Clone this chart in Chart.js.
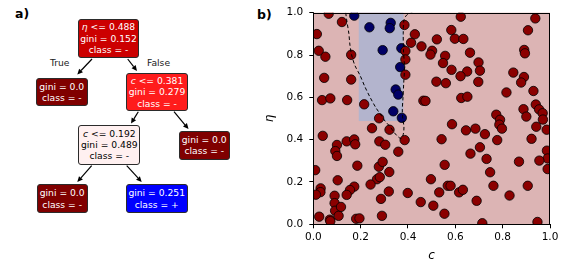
<!DOCTYPE html>
<html><head><meta charset="utf-8">
<script src="https://cdn.jsdelivr.net/npm/chart.js@4/dist/chart.umd.min.js"></script>
<style>
html,body{margin:0;padding:0;background:#fff;}
#wrap{position:relative;width:574px;height:262px;overflow:hidden;font-family:"DejaVu Sans",sans-serif;}
.lbl{position:absolute;font-weight:bold;font-size:12.5px;color:#000;line-height:14px;}
.node{position:absolute;box-sizing:border-box;border:1.3px solid #2b2b2b;border-radius:3px;font-size:9.2px;line-height:11.2px;text-align:center;color:#fff;display:flex;flex-direction:column;justify-content:center;white-space:nowrap;}
.edge{position:absolute;font-size:9.2px;color:#222;line-height:11px;}
#chartBox{position:absolute;left:258px;top:0;width:316px;height:262px;}
</style></head><body>
<div id="wrap">
 <div class="lbl" style="left:15px;top:7px">a)</div>
 <div class="lbl" style="left:257px;top:8px">b)</div>
 <svg id="arrows" width="260" height="262" style="position:absolute;left:0;top:0"></svg>
 <div id="tree"></div>
 <div id="chartBox"><canvas id="c" width="316" height="262"></canvas></div>
</div>
<script>
// ---------- data ----------
const redPoints = [
 [0.065,0.995],[0.121,0.956],[0.015,0.899],[0.023,0.820],[0.051,0.792],[0.160,0.801],[0.046,0.692],[0.160,0.684],
 [0.037,0.587],[0.072,0.595],[0.143,0.587],[0.215,0.567],[0.278,0.501],
 [0.385,0.942],[0.429,0.898],[0.413,0.858],[0.389,0.819],[0.389,0.779],[0.389,0.707],[0.457,0.841],[0.502,0.820],
 [0.495,0.802],[0.522,0.874],[0.557,0.796],[0.548,0.762],[0.584,0.730],[0.583,0.918],[0.598,0.877],[0.634,0.876],
 [0.623,0.981],[0.662,0.811],[0.650,0.722],[0.622,0.700],[0.520,0.674],[0.560,0.667],[0.698,0.765],[0.704,0.726],
 [0.697,0.673],[0.625,0.597],[0.651,0.603],[0.465,0.584],[0.474,0.583],
 [0.845,0.717],[0.816,0.623],[0.891,0.824],[0.894,0.808],[0.907,0.917],[0.938,0.973],[0.890,0.696],[0.878,0.670],
 [0.930,0.630],[0.940,0.566],[0.954,0.543],[0.969,0.525],[0.970,0.495],[0.888,0.544],[0.900,0.509],[0.773,0.518],[0.789,0.494],
 [0.586,0.473],[0.645,0.444],[0.685,0.452],[0.786,0.471],[0.797,0.452],[0.942,0.461],[0.986,0.447],[0.725,0.426],
 [0.777,0.398],[0.922,0.404],[0.704,0.364],[0.664,0.334],[0.732,0.309],[0.987,0.348],[0.990,0.311],[0.955,0.301],
 [0.869,0.296],[0.990,0.261],[0.747,0.246],[0.761,0.182],[0.906,0.182],[0.829,0.136],[0.690,0.111],[0.714,0.005],[0.947,0.011],
 [0.542,0.402],[0.555,0.281],[0.497,0.213],[0.568,0.182],[0.580,0.182],[0.532,0.151],[0.616,0.151],[0.632,0.163],
 [0.399,0.148],[0.454,0.105],[0.507,0.088],[0.554,0.050],[0.359,0.343],[0.386,0.398],
 [0.248,0.454],[0.322,0.447],[0.040,0.418],[0.100,0.375],[0.093,0.346],[0.100,0.323],[0.141,0.392],[0.173,0.401],
 [0.177,0.378],[0.279,0.392],[0.304,0.376],[0.186,0.277],[0.277,0.272],[0.293,0.295],[0.008,0.256],[0.321,0.247],
 [0.103,0.208],[0.269,0.213],[0.281,0.223],[0.242,0.188],[0.173,0.178],[0.155,0.162],[0.141,0.139],[0.319,0.155],
 [0.031,0.170],[0.030,0.152],[0.011,0.140],[0.090,0.135],[0.090,0.100],[0.092,0.064],[0.117,0.082],[0.286,0.120],
 [0.025,0.036],[0.070,0.022],[0.072,0.015],[0.107,0.040],[0.181,0.026],[0.195,0.028],[0.290,0.040]
];
const bluePoints = [
 [0.173,0.986],[0.237,0.931],[0.327,0.952],[0.323,0.927],[0.293,0.823],[0.372,0.832],
 [0.367,0.743],[0.348,0.637],[0.359,0.613],[0.338,0.534],[0.374,0.503]
];
const boundary = [
 [0.137,1.0],[0.141,0.966],[0.150,0.903],[0.155,0.845],[0.162,0.800],[0.176,0.750],[0.197,0.705],[0.218,0.650],
 [0.240,0.600],[0.265,0.550],[0.290,0.510],[0.303,0.488],[0.324,0.462],[0.340,0.436],[0.358,0.414],[0.372,0.405],
 [0.380,0.425],[0.383,0.460],[0.378,0.500],[0.376,0.540],[0.379,0.600],[0.382,0.667],[0.385,0.740],[0.381,0.824],
 [0.380,0.903],[0.383,0.965],[0.395,0.989],[0.418,1.0]
];
const regionC = [0.192, 0.381];
const regionEta = [0.488, 1.0];
const xTicks = [0, 0.2, 0.4, 0.6, 0.8, 1.0];
const yTicks = [0, 0.2, 0.4, 0.6, 0.8, 1.0];
const xTickLabels = ['0.0','0.2','0.4','0.6','0.8','1.0'];
const yTickLabels = ['0.0','0.2','0.4','0.6','0.8','1.0'];

// decision tree text
const nodeText = [
 ['<i>η</i> &lt;= 0.488','gini = 0.152','class = -'],
 ['gini = 0.0','class = -'],
 ['<i>c</i> &lt;= 0.381','gini = 0.279','class = -'],
 ['<i>c</i> &lt;= 0.192','gini = 0.489','class = -'],
 ['gini = 0.0','class = -'],
 ['gini = 0.0','class = -'],
 ['gini = 0.251','class = +']
];
// ---------- layout ----------
const nodeLayout = [
 {x:78, y:19, w:61, h:38.5, bg:'#cc0000', fg:'#fff'},
 {x:36, y:77.7, w:51.5, h:28.5, bg:'#800000', fg:'#fff'},
 {x:126, y:72.7, w:62, h:38.5, bg:'#ff1c1c', fg:'#fff'},
 {x:78.3, y:125, w:62, h:39.5, bg:'#fff0f0', fg:'#000'},
 {x:179, y:131, w:50.5, h:28.5, bg:'#800000', fg:'#fff'},
 {x:36.7, y:184.3, w:51, h:28.5, bg:'#800000', fg:'#fff'},
 {x:125.7, y:184.3, w:62, h:28.5, bg:'#0000ff', fg:'#fff'}
];
const arrowLayout = [
 [92,59,77.3,74.5],[127.7,59,137,71],[138.3,111.7,131,123.5],[174,111.7,188.5,129],[91.7,165.7,77.3,182],[126.7,165.7,141.7,182]
];
const tree = document.getElementById('tree');
nodeText.forEach((lines,i)=>{
  const L = nodeLayout[i];
  const d = document.createElement('div');
  d.className='node';
  d.style.cssText += `left:${L.x}px;top:${L.y}px;width:${L.w}px;height:${L.h}px;background:${L.bg};color:${L.fg};`;
  d.innerHTML = lines.map(t=>'<div>'+t+'</div>').join('');
  tree.appendChild(d);
});
[['True',50,56.5],['False',147,56.5]].forEach(([t,x,y])=>{
  const d=document.createElement('div'); d.className='edge'; d.textContent=t;
  d.style.left=x+'px'; d.style.top=y+'px'; tree.appendChild(d);
});
const svg = document.getElementById('arrows');
let s = '';
arrowLayout.forEach(([x1,y1,x2,y2])=>{
  const dx=x2-x1, dy=y2-y1, len=Math.hypot(dx,dy), ux=dx/len, uy=dy/len;
  const hl=5.5, hw=2.6;
  const bx=x2-ux*hl, by=y2-uy*hl;
  s += `<line x1="${x1}" y1="${y1}" x2="${bx}" y2="${by}" stroke="#000" stroke-width="1.2"/>`;
  s += `<polygon points="${x2},${y2} ${bx-uy*hw},${by+ux*hw} ${bx+uy*hw},${by-ux*hw}" fill="#000"/>`;
});
svg.innerHTML = s;

// ---------- chart ----------
const bgPlugin = {
  id:'bg',
  beforeDatasetsDraw(chart){
    const {ctx, chartArea:a, scales:{x,y}} = chart;
    ctx.save();
    ctx.fillStyle = '#dcb4b4';
    ctx.fillRect(a.left, a.top, a.right-a.left, a.bottom-a.top);
    const x0=x.getPixelForValue(regionC[0]), x1=x.getPixelForValue(regionC[1]);
    const y0=y.getPixelForValue(regionEta[1]), y1=y.getPixelForValue(regionEta[0]);
    ctx.fillStyle = '#b3b4cd';
    ctx.fillRect(x0, y0, x1-x0, y1-y0);
    ctx.restore();
  },
  afterDatasetsDraw(chart){
    const {ctx, chartArea:a} = chart;
    ctx.save();
    ctx.strokeStyle='#000'; ctx.lineWidth=1;
    ctx.strokeRect(Math.round(a.left)+0.5, Math.round(a.top)+0.5, Math.round(a.right-a.left)-1, Math.round(a.bottom-a.top)-1);
    ctx.restore();
  }
};
const tickFont = {family:'DejaVu Sans', size:10.5};
const toXY = arr => arr.map(p=>({x:p[0], y:p[1]}));
new Chart(document.getElementById('c'), {
  type:'scatter',
  data:{datasets:[
    {data:toXY(boundary), showLine:true, borderColor:'#000', borderWidth:1, borderDash:[3.5,2.5], pointRadius:0, fill:false, clip:0, tension:0.3},
    {data:toXY(redPoints), backgroundColor:'#8b0000', borderColor:'#000', borderWidth:0.8, pointRadius:4.7, clip:0},
    {data:toXY(bluePoints), backgroundColor:'#000066', borderColor:'#000', borderWidth:0.8, pointRadius:4.7, clip:0}
  ]},
  options:{
    responsive:false, animation:false, devicePixelRatio:1,
    layout:{padding:{top:12.7, right:24, left:0, bottom:0}},
    plugins:{legend:{display:false}, tooltip:{enabled:false}},
    scales:{
      x:{type:'linear', min:0, max:1,
         afterBuildTicks(sc){ sc.ticks = xTicks.map(v=>({value:v})); },
         afterFit(sc){ sc.height = 37.7; },
         ticks:{font:tickFont, color:'#000', padding:3, maxRotation:0, callback:(v,i)=>xTickLabels[i]},
         grid:{drawOnChartArea:false, drawTicks:true, tickLength:4, tickColor:'#000', tickWidth:1},
         border:{display:true, color:'#000', width:1},
         title:{display:true, text:'c', font:{family:'DejaVu Sans', size:12, style:'italic', lineHeight:1}, color:'#000', padding:{top:0,bottom:0}}
      },
      y:{type:'linear', min:0, max:1,
         afterBuildTicks(sc){ sc.ticks = yTicks.map(v=>({value:v})); },
         afterFit(sc){ sc.width = 55.3; },
         ticks:{font:tickFont, color:'#000', padding:6, callback:(v,i)=>yTickLabels[i]},
         grid:{drawOnChartArea:false, drawTicks:true, tickLength:4, tickColor:'#000', tickWidth:1},
         border:{display:true, color:'#000', width:1},
         title:{display:true, text:'η', font:{family:'DejaVu Sans', size:12, style:'italic', lineHeight:1}, color:'#000', padding:{top:6,bottom:0}}
      }
    }
  },
  plugins:[bgPlugin]
});
</script>
</body></html>
